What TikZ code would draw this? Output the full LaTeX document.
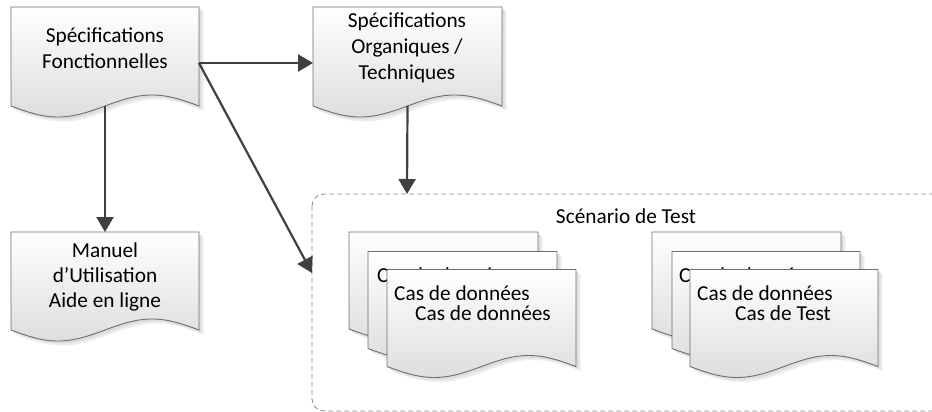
\documentclass[tikz,border=0pt]{standalone}
\usepackage{fontspec}
\setmainfont{Carlito}
\usetikzlibrary{arrows.meta}
\definecolor{edgec}{HTML}{6E6E6E}
\definecolor{arrc}{HTML}{404040}
\definecolor{dashc}{HTML}{8C8C8C}
\newcommand\docpath[4]{(#1,#2+#4) sin (#1+#3/4,#2+#4+11) cos (#1+#3/2,#2+#4) sin (#1+3*#3/4,#2+#4-11) cos (#1+#3,#2+#4) -- (#1+#3,#2) -- (#1,#2) -- cycle}
\newcommand\docshape[4]{%
  \fill[black!7] [shift={(4.5,4.5)}] \docpath{#1}{#2}{#3}{#4};
  \fill[black!13] [shift={(2.5,2.5)}] \docpath{#1}{#2}{#3}{#4};
  \shade[top color=white,bottom color=black!13,draw=edgec,line width=0.9pt] \docpath{#1}{#2}{#3}{#4};
}
\tikzset{
  conn/.style={draw=arrc,line width=2.2pt,-{Triangle[length=15pt,width=17pt]}},
  lbl/.style={inner sep=0pt,anchor=base,font=\fontsize{21.3}{26}\selectfont},
  lblw/.style={lbl,anchor=base west},
  frame/.style={draw=dashc,line width=0.8pt,dash pattern=on 5pt off 3pt,rounded corners=12pt}
}
\begin{document}
\begin{tikzpicture}[x=1pt,y=-1pt]
\useasboundingbox (0,0) rectangle (932,412);
\begin{scope}
\clip (0,0) rectangle (932,412);
% container
\draw[frame] (312,194) rectangle (980,411);
\coordinate (sc-n) at (407,194);
\coordinate (sc-w) at (312,273);
\node[lbl] (sc-t) at (626,223) {Scénario de Test};
% top-left document
\docshape{11}{7}{188}{99}
\coordinate (sf-e) at (199,63);
\coordinate (sf-s) at (105,106);
\node[lbl] (sf-t1) at (105,43) {Spécifications};
\node[lbl] (sf-t2) at (105,69) {Fonctionnelles};
% top-middle document
\docshape{313}{7}{189}{99}
\coordinate (so-w) at (313,63);
\coordinate (so-s) at (407.5,106);
\node[lbl] (so-t1) at (407,28) {Spécifications};
\node[lbl] (so-t2) at (407,54) {Organiques /};
\node[lbl] (so-t3) at (407,80) {Techniques};
% bottom-left document
\docshape{11}{232}{188}{98}
\coordinate (mu-n) at (105,232);
\node[lbl] (mu-t1) at (105,257) {Manuel};
\node[lbl] (mu-t2) at (105,282) {d’Utilisation};
\node[lbl] (mu-t3) at (105,307) {Aide en ligne};
% stack 1
\docshape{349}{232}{189}{97}
\docshape{368}{251.5}{189}{97}
\node[lblw] (s1-m) at (377,282) {Cas de données};
\docshape{387}{269.5}{189}{97}
\node[lblw] (s1-f1) at (394,300) {Cas de données};
\node[lblw] (s1-f2) at (415,320) {Cas de données};
% stack 2
\docshape{652}{232}{189}{97}
\docshape{672}{251.5}{188}{97}
\node[lblw] (s2-m) at (679,282) {Cas de données};
\docshape{690}{269.5}{188}{97}
\node[lblw] (s2-f1) at (697,300) {Cas de données};
\node[lblw] (s2-f2) at (735,320) {Cas de Test};
% connectors
\draw[conn] (sf-e) -- (so-w);
\draw[conn] (sf-s) -- (mu-n);
\draw[conn] (sf-e) -- (sc-w);
\draw[conn] (so-s) -- (sc-n);
\end{scope}
\end{tikzpicture}
\end{document}
